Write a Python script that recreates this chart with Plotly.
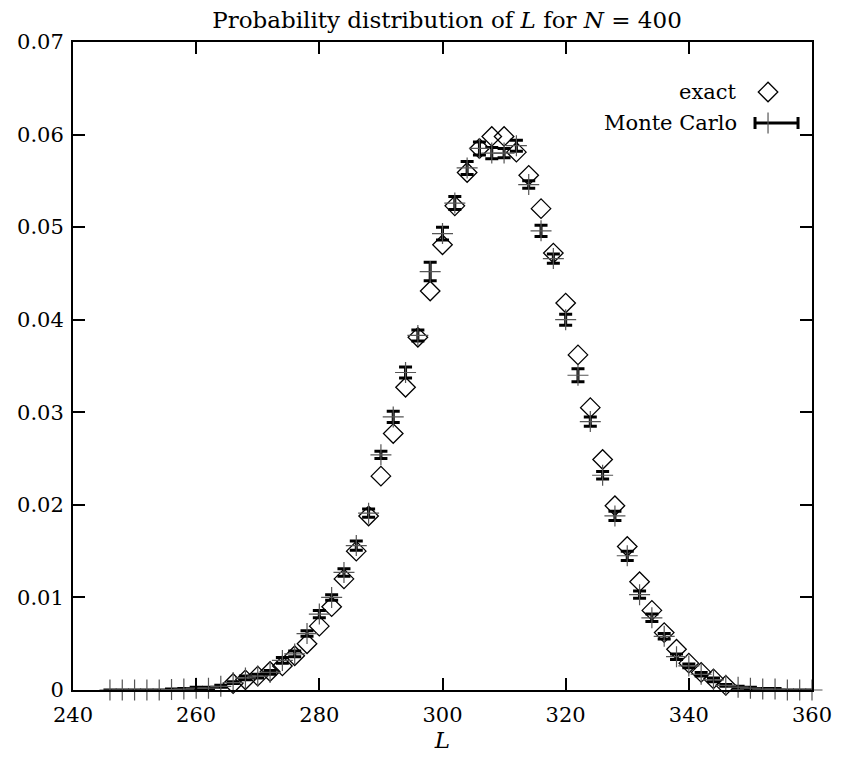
import plotly.graph_objects as go

# ---- data ----
L_exact = list(range(266, 348, 2))
p_exact = [0.0007, 0.0011, 0.0015, 0.0020, 0.0026, 0.0037, 0.0050, 0.0069, 0.0090, 0.0120,
           0.0150, 0.0188, 0.0231, 0.0277, 0.0327, 0.0381, 0.0431, 0.0481, 0.0523, 0.0559,
           0.0585, 0.0598, 0.0598, 0.0581, 0.0556, 0.0520, 0.0472, 0.0418, 0.0362, 0.0305,
           0.0249, 0.0199, 0.0155, 0.0117, 0.0086, 0.0062, 0.0044, 0.0029, 0.0019, 0.0012,
           0.0005]

L_mc = list(range(246, 362, 2))
p_mc = [0.0, 0.0, 0.0, 0.0, 0.0, 0.00005, 0.0001, 0.0002, 0.0002, 0.0004,
        0.0008, 0.0013, 0.0015, 0.0019, 0.0032, 0.0039, 0.0061, 0.0082, 0.0100, 0.0127,
        0.0156, 0.0191, 0.0254, 0.0295, 0.0343, 0.0383, 0.0452, 0.0493, 0.0526, 0.0564,
        0.0585, 0.0580, 0.0580, 0.0588, 0.0546, 0.0496, 0.0466, 0.0400, 0.0340, 0.0290,
        0.0232, 0.0188, 0.0145, 0.0103, 0.0078, 0.0058, 0.0036, 0.0026, 0.0017, 0.0011,
        0.0005, 0.0003, 0.0002, 0.0001, 0.0001, 0.0, 0.0, 0.0]
err_mc = [0.0, 0.0, 0.0, 0.0, 0.0, 0.00005, 0.00005, 0.0001, 0.0001, 0.0001,
          0.0001, 0.0002, 0.0002, 0.0002, 0.0003, 0.0003, 0.0003, 0.0004, 0.0003, 0.0004,
          0.0005, 0.00045, 0.0004, 0.0006, 0.0006, 0.0006, 0.0010, 0.0007, 0.0007, 0.0007,
          0.0007, 0.0006, 0.0005, 0.0006, 0.0004, 0.0006, 0.0005, 0.0006, 0.0007, 0.0005,
          0.0004, 0.0005, 0.0005, 0.0004, 0.0004, 0.0003, 0.0003, 0.0002, 0.0002, 0.0002,
          0.0001, 0.0001, 0.0001, 0.00005, 0.00005, 0.0, 0.0, 0.0]

x_ticks = [240, 260, 280, 300, 320, 340, 360]
y_ticks = [0, 0.01, 0.02, 0.03, 0.04, 0.05, 0.06, 0.07]
y_tick_text = ["0", "0.01", "0.02", "0.03", "0.04", "0.05", "0.06", "0.07"]

FONT = "DejaVu Serif"
FS = 21

# page has an 8px body margin; figure is sized to fit the window
W, H = 842, 757

fig = go.Figure()

fig.add_trace(go.Scatter(
    x=L_exact, y=p_exact, mode="markers", name="exact",
    marker=dict(symbol="diamond-open", size=15, color="black", line=dict(width=1.3, color="black")),
    cliponaxis=False, showlegend=False))

fig.add_trace(go.Scatter(
    x=L_mc, y=p_mc, mode="markers", name="Monte Carlo",
    marker=dict(symbol="cross-thin-open", size=15, color="#555555", line=dict(width=1.2, color="#555555")),
    error_y=dict(type="data", array=err_mc, visible=True, color="black", thickness=3, width=6.5),
    cliponaxis=False, showlegend=False))

# ---- manual key (gnuplot style: text left, sample right) ----
fig.add_trace(go.Scatter(
    x=[0.9405], y=[0.9228], xaxis="x2", yaxis="y2", mode="markers",
    marker=dict(symbol="diamond-open", size=15, color="black", line=dict(width=1.3, color="black")),
    cliponaxis=False, showlegend=False, hoverinfo="skip"))
fig.add_trace(go.Scatter(
    x=[0.952], y=[0.875], xaxis="x2", yaxis="y2", mode="markers",
    marker=dict(symbol="circle", size=1, color="rgba(0,0,0,0)"),
    error_x=dict(type="data", array=[0.0291], visible=True, color="black", thickness=3, width=6),
    cliponaxis=False, showlegend=False, hoverinfo="skip"))
fig.add_trace(go.Scatter(
    x=[0.9405], y=[0.875], xaxis="x2", yaxis="y2", mode="markers",
    marker=dict(symbol="line-ns-open", size=15, color="#555555", line=dict(width=1.2, color="#555555")),
    cliponaxis=False, showlegend=False, hoverinfo="skip"))

fig.add_annotation(x=0.9012, y=0.9228, xref="x2", yref="y2", text="exact",
                   showarrow=False, xanchor="right", yanchor="middle",
                   font=dict(family=FONT, size=FS, color="black"))
fig.add_annotation(x=0.9012, y=0.875, xref="x2", yref="y2", text="Monte Carlo",
                   showarrow=False, xanchor="right", yanchor="middle",
                   font=dict(family=FONT, size=FS, color="black"))

axis_common = dict(showline=True, linecolor="black", linewidth=2, mirror="allticks",
                   ticks="inside", ticklen=12, tickwidth=1.5, tickcolor="black",
                   showgrid=False, zeroline=False, automargin=False,
                   tickfont=dict(family=FONT, size=FS, color="black"))

fig.update_layout(
    width=W, height=H,
    margin=dict(l=65, r=W - 804, t=34, b=H - 682, autoexpand=False),
    paper_bgcolor="white", plot_bgcolor="white",
    title=dict(text="Probability distribution of <i>L</i> for <i>N</i> = 400",
               x=439 / W, xanchor="center", y=1.0, yanchor="top", yref="container",
               pad=dict(t=4, b=0, l=0, r=0),
               font=dict(family=FONT, size=23, color="black")),
    xaxis=dict(range=[240, 360], tickvals=x_ticks, ticktext=[str(v) for v in x_ticks],
               ticklabelstandoff=5,
               title=dict(text="<i>L</i>", standoff=4, font=dict(family=FONT, size=FS + 2, color="black")),
               **axis_common),
    yaxis=dict(range=[0, 0.07], tickvals=y_ticks, ticktext=y_tick_text, ticklabelstandoff=3,
               **axis_common),
    xaxis2=dict(overlaying="x", range=[0, 1], visible=False),
    yaxis2=dict(overlaying="y", range=[0, 1], visible=False),
    showlegend=False,
)

fig.write_html("out.html")
